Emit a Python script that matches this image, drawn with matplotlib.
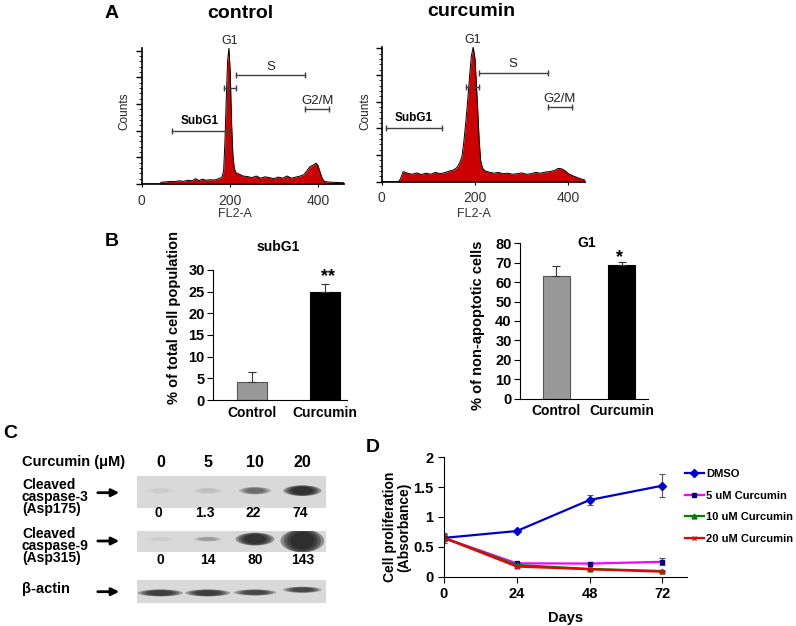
import numpy as np
import matplotlib
matplotlib.use("Agg")
from matplotlib import pyplot as plt
from matplotlib.patches import Ellipse

plt.rcParams['font.family'] = ['Liberation Sans', 'DejaVu Sans']

W, H = 796, 626

# ---- A: DNA content histograms (FL2-A vs counts)
ctrl_ch = [0, 40, 45, 55, 65, 75, 85, 95, 105, 115, 122, 130, 138, 146, 155, 165, 175, 182,
           186, 189, 192, 195, 198, 201, 204, 207, 210, 214, 220, 230, 240, 250, 260, 270,
           280, 290, 300, 310, 320, 330, 340, 350, 360, 368, 375, 382, 390, 396, 400, 405,
           410, 415, 420, 430, 440, 450, 460]
ctrl_counts = [0, 0, 0.07, 0.08, 0.1, 0.09, 0.12, 0.1, 0.14, 0.12, 0.2, 0.13, 0.18, 0.14, 0.16,
               0.15, 0.2, 0.25, 0.5, 1.6, 3.2, 4.6, 5.1, 4.2, 2.3, 1.1, 0.6, 0.42, 0.38, 0.3,
               0.28, 0.24, 0.3, 0.22, 0.27, 0.24, 0.2, 0.26, 0.22, 0.3, 0.22, 0.26, 0.3, 0.35,
               0.5, 0.65, 0.72, 0.78, 0.7, 0.45, 0.2, 0.1, 0.08, 0.07, 0.06, 0.05, 0.05]
curc_ch = [0, 36, 40, 46, 55, 65, 75, 85, 95, 105, 115, 125, 135, 145, 155, 162, 168, 172, 176,
           180, 184, 188, 192, 196, 200, 203, 206, 209, 212, 216, 222, 230, 240, 250, 260, 270,
           280, 290, 300, 310, 320, 330, 340, 350, 360, 370, 378, 386, 394, 400, 410, 420, 428, 436]
curc_counts = [0, 0, 0.1, 0.38, 0.32, 0.28, 0.33, 0.27, 0.32, 0.28, 0.35, 0.3, 0.34, 0.4, 0.45,
               0.55, 0.75, 0.95, 1.5, 2.2, 3.0, 3.9, 4.7, 5.05, 4.6, 3.6, 2.6, 1.5, 0.8, 0.5, 0.4,
               0.36, 0.32, 0.35, 0.3, 0.32, 0.28, 0.3, 0.33, 0.28, 0.3, 0.35, 0.32, 0.36, 0.38,
               0.42, 0.5, 0.48, 0.4, 0.3, 0.22, 0.15, 0.1, 0.06]

gate_names = ['SubG1', 'G1', 'S', 'G2/M']
ctrl_gate_lo = [68, 186, 214, 371]
ctrl_gate_hi = [197, 214, 371, 426]
ctrl_gate_y = [2.0, 3.6, 4.08, 2.8]
curc_gate_lo = [9, 181, 208, 356]
curc_gate_hi = [129, 208, 356, 408]
curc_gate_y = [2.03, 3.56, 4.08, 2.79]

# ---- B: bar charts
groups = ['Control', 'Curcumin']
subg1_mean = [4.2, 24.9]
subg1_err = [2.3, 1.9]
g1_mean = [63.2, 68.8]
g1_err = [5.1, 1.7]

# ---- C: western blot
conc_labels = ['0', '5', '10', '20']
casp3_band = [0.03, 0.08, 0.45, 0.95]
casp9_band = [0.03, 0.22, 0.92, 1.0]
actin_band = [0.8, 0.8, 0.7, 0.7]
casp3_quant = ['0', '1.3', '22', '74']
casp9_quant = ['0', '14', '80', '143']

# ---- D: proliferation
days = [0, 24, 48, 72]
dmso = [0.65, 0.765, 1.285, 1.525]
dmso_err = [0.08, 0.02, 0.08, 0.19]
c5 = [0.65, 0.224, 0.22, 0.25]
c5_err = [0.06, 0.03, 0.03, 0.06]
c10 = [0.65, 0.196, 0.13, 0.095]
c10_err = [0.05, 0.02, 0.02, 0.01]
c20 = [0.65, 0.17, 0.125, 0.084]
c20_err = [0.05, 0.03, 0.02, 0.01]


def px_axes(l, t, r, b):
    ax = fig.add_axes([l / W, 1 - b / H, (r - l) / W, (b - t) / H])
    ax.patch.set_alpha(0)
    return ax


fig = plt.figure(figsize=(W / 100, H / 100), dpi=100)
ov = fig.add_axes([0, 0, 1, 1])
ov.set_xlim(0, W)
ov.set_ylim(H, 0)
ov.axis('off')
ov.set_zorder(10)


def histo(ax, ch, counts, xmax, ymax, lo, hi, gy):
    ax.fill_between(ch, counts, color='#cc0000', lw=0)
    ax.plot(ch, counts, color='black', lw=0.7)
    ax.set_xlim(0, xmax)
    ax.set_ylim(0, ymax)
    for s in ['top', 'right']:
        ax.spines[s].set_visible(False)
    for s in ['left', 'bottom']:
        ax.spines[s].set_linewidth(1.2)
    ax.set_xticks([0, 200, 400])
    ax.set_yticks(np.arange(0, 5.1, 1))
    ax.set_yticks(np.arange(0, 5.1, 0.2), minor=True)
    ax.set_yticklabels([])
    ax.tick_params(axis='y', which='major', length=4, width=1)
    ax.tick_params(axis='y', which='minor', length=2, width=0.6)
    ax.tick_params(axis='x', length=2, labelsize=10, labelcolor='#333333', pad=5)
    for name, a, b, y in zip(gate_names, lo, hi, gy):
        ax.plot([a, b], [y, y], color='#404040', lw=1, marker='|', ms=5, mew=1)
        xc = (a + b) / 2
        if name == 'SubG1':
            ax.text(xc, y + 0.12, name, ha='center', va='bottom', fontsize=8.5, fontweight='bold')
        elif name == 'G1':
            ax.text(xc, ymax + 0.03, name, ha='center', va='bottom', fontsize=9, color='#222222')
        else:
            ax.text(xc, y + 0.1, name, ha='center', va='bottom', fontsize=9.5, color='#222222')


ax1 = px_axes(141.7, 48, 344.3, 184)
histo(ax1, ctrl_ch, ctrl_counts, 460, 5.1, ctrl_gate_lo, ctrl_gate_hi, ctrl_gate_y)
ax2 = px_axes(381.7, 47, 585, 181.7)
histo(ax2, curc_ch, curc_counts, 435.6, 5.05, curc_gate_lo, curc_gate_hi, curc_gate_y)

ov.text(112, 14, 'A', fontsize=14, fontweight='bold', ha='center', va='center')
ov.text(240.5, 13, 'control', fontsize=14, fontweight='bold', ha='center', va='center')
ov.text(471, 12, 'curcumin', fontsize=14, fontweight='bold', ha='center', va='center')
ov.text(124, 111, 'Counts', fontsize=8.5, rotation=90, ha='center', va='center', color='#222222')
ov.text(365, 111, 'Counts', fontsize=8.5, rotation=90, ha='center', va='center', color='#222222')
ov.text(235, 214, 'FL2-A', fontsize=9, ha='center', va='center', color='#333333')
ov.text(474, 214, 'FL2-A', fontsize=9, ha='center', va='center', color='#333333')


# ---- B
def bars(ax, means, errs, xmin, xmax, ymax, step):
    x = np.arange(len(groups))
    ax.bar(x, means, width=0.41, color=['#999999', 'black'], edgecolor=['#555555', 'black'], lw=0.8)
    ax.errorbar(x, means, yerr=[[0] * len(errs), errs], fmt='none', ecolor='#333333',
                elinewidth=0.8, capsize=3, capthick=0.8)
    ax.set_xlim(xmin, xmax)
    ax.set_ylim(0, ymax)
    ax.set_yticks(np.arange(0, ymax + 1, step))
    ax.set_xticks(x)
    ax.set_xticklabels(groups, fontsize=10, fontweight='bold')
    ax.tick_params(axis='x', length=0, pad=4)
    ax.tick_params(axis='y', length=4, labelsize=10.5, pad=2)
    for lab in ax.get_yticklabels():
        lab.set_fontweight('bold')
    for s in ['top', 'right']:
        ax.spines[s].set_visible(False)


ax3 = px_axes(213, 270, 346.6, 400)
bars(ax3, subg1_mean, subg1_err, -0.53, 1.3, 30, 5)
ax4 = px_axes(520, 243.3, 648, 398.5)
bars(ax4, g1_mean, g1_err, -0.557, 1.4, 80, 10)

ov.text(112, 242, 'B', fontsize=14, fontweight='bold', ha='center', va='center')
ov.text(278, 247, 'subG1', fontsize=10, fontweight='bold', ha='center', va='center')
ov.text(587, 243, 'G1', fontsize=10, fontweight='bold', ha='center', va='center')
ov.text(328, 277, '**', fontsize=13, fontweight='bold', ha='center', va='center')
ov.text(619, 258, '*', fontsize=13, fontweight='bold', ha='center', va='center')
ov.text(174, 318, '% of total cell population', fontsize=10.5, fontweight='bold',
        rotation=90, ha='center', va='center')
ov.text(478, 325, '% of non-apoptotic cells', fontsize=10.5, fontweight='bold',
        rotation=90, ha='center', va='center')

# ---- C
lanes = np.arange(len(conc_labels))


def blot(box, dark, widths, heights, ycs):
    ax = px_axes(*box)
    ax.patch.set_alpha(1)
    ax.set_xlim(-0.5, 3.5)
    ax.set_ylim(0, 1)
    ax.set_facecolor('#d9d9d9')
    ax.set_xticks([])
    ax.set_yticks([])
    for s in ax.spines.values():
        s.set_visible(False)
    for i, d in enumerate(dark):
        for sc in [1.0, 0.85, 0.7, 0.55]:
            ax.add_patch(Ellipse((lanes[i], ycs[i]), widths[i] * sc, heights[i] * min(1, sc + 0.2),
                                 color='#151515', alpha=d * 0.4, lw=0))
    return ax


b1 = blot((136.7, 475.7, 326, 508.3), casp3_band, [0.62, 0.62, 0.68, 0.8],
          [0.18, 0.18, 0.22, 0.32], [0.54] * 4)
b2 = blot((136.7, 530.7, 326, 551.7), casp9_band, [0.6, 0.6, 0.82, 0.92],
          [0.22, 0.22, 0.6, 1.1], [0.6, 0.6, 0.6, 0.52])
b3 = blot((136.7, 580, 326, 602.7), actin_band, [0.95, 0.95, 0.9, 0.82],
          [0.3, 0.3, 0.26, 0.26], [0.43, 0.43, 0.45, 0.57])

for i, lab in enumerate(conc_labels):
    b1.text(lanes[i], 1.42, lab, ha='center', va='center', fontsize=11.5, fontweight='bold')
    b1.text(lanes[i] - 0.05, -0.14, casp3_quant[i], ha='center', va='center', fontsize=10, fontweight='bold')
    b2.text(lanes[i], -0.4, casp9_quant[i], ha='center', va='center', fontsize=10, fontweight='bold')

ov.text(10, 433, 'C', fontsize=14, fontweight='bold', ha='center', va='center')
ov.text(22, 462, 'Curcumin (\u03bcM)', fontsize=10.5, fontweight='bold', ha='left', va='center')
ov.text(22, 497, 'Cleaved\ncaspase-3\n(Asp175)', fontsize=10, fontweight='bold', ha='left',
        va='center', linespacing=0.85)
ov.text(22, 546, 'Cleaved\ncaspase-9\n(Asp315)', fontsize=10, fontweight='bold', ha='left',
        va='center', linespacing=0.85)
ov.text(22, 589, '\u03b2-actin', fontsize=10.5, fontweight='bold', ha='left', va='center')
for y in [492.7, 541, 591.7]:
    ov.annotate('', xy=(122, y), xytext=(95, y),
                arrowprops=dict(arrowstyle='-|>', lw=2, color='black', mutation_scale=11))

# ---- D
ax5 = px_axes(444, 457.3, 686.7, 576.7)
series = [(dmso, dmso_err, '#0000cc', '#0000cc', 'D', 4, 'DMSO'),
          (c5, c5_err, '#ff00ff', '#000080', 's', 3, '5 uM Curcumin'),
          (c10, c10_err, '#008000', '#008000', '^', 3.5, '10 uM Curcumin'),
          (c20, c20_err, '#ee0000', '#ee0000', 'x', 3.5, '20 uM Curcumin')]
for y, e, col, mcol, mk, ms, lab in series:
    ax5.errorbar(days, y, yerr=e, fmt='none', ecolor='#555555', elinewidth=0.8,
                 capsize=2.5, capthick=0.8)
    ax5.plot(days, y, color=col, lw=1.6, marker=mk, ms=ms, mfc=mcol, mec=mcol, label=lab)
ax5.set_xlim(0, 80)
ax5.set_ylim(0, 2)
ax5.set_xticks(days)
ax5.set_yticks([0, 0.5, 1, 1.5, 2])
ax5.set_yticklabels(['0', '0.5', '1', '1.5', '2'])
ax5.tick_params(length=4, labelsize=10.5)
for lab in ax5.get_xticklabels() + ax5.get_yticklabels():
    lab.set_fontweight('bold')
for s in ['top', 'right']:
    ax5.spines[s].set_visible(False)
ax5.set_xlabel('Days', fontsize=10.5, fontweight='bold', labelpad=7)
ov.text(397, 527, 'Cell proliferation\n(Absorbance)', fontsize=10, fontweight='bold',
        rotation=90, ha='center', va='center', linespacing=1.0)
ax5.legend(loc='upper left', bbox_to_anchor=(685 / W, 1 - 469 / H), bbox_transform=fig.transFigure,
           frameon=False, prop={'size': 8, 'weight': 'bold'}, handlelength=1.7,
           handletextpad=0.2, labelspacing=1.05, borderpad=0, borderaxespad=0)
ov.text(372.5, 448, 'D', fontsize=14, fontweight='bold', ha='center', va='center')

fig.savefig('out.png', dpi=100)
